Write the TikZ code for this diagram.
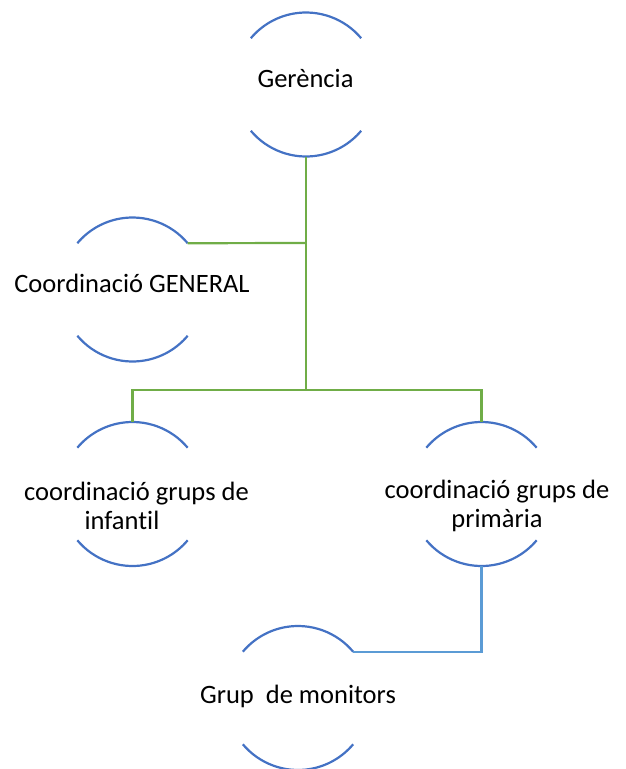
\documentclass[tikz,border=0pt]{standalone}
\usepackage{fontspec}
\setmainfont{Carlito}[Ligatures=NoCommon]
\usetikzlibrary{calc}
\definecolor{arcblue}{HTML}{4472C4}
\definecolor{linegreen}{HTML}{70AD47}
\definecolor{lineblue}{HTML}{5B9BD5}
\newcommand\halfring[1]{%
  \draw[ring] ($(#1)+(40:72)$) arc[start angle=40,end angle=140,radius=72];
  \draw[ring] ($(#1)+(220:72)$) arc[start angle=220,end angle=320,radius=72];}
\begin{document}
\begin{tikzpicture}[x=1pt,y=1pt,
  lbl/.style={font=\fontsize{26.5}{29}\selectfont, inner sep=0pt, align=center},
  ring/.style={draw=arcblue, line width=2.2pt},
  gline/.style={draw=linegreen, line width=2.2pt},
  bline/.style={draw=lineblue, line width=2.2pt}]
\useasboundingbox (0,0) rectangle (625,-769);
% circle centres
\coordinate (g) at (306,-84.5);
\coordinate (c) at (132.5,-289.5);
\coordinate (i) at (132.5,-494);
\coordinate (p) at (481.5,-494);
\coordinate (m) at (298,-698);
% rings
\halfring{g}
\halfring{c}
\halfring{i}
\halfring{p}
\halfring{m}
% labels
\node[lbl, anchor=base] (gt) at (305.5,-87.5) {Gerència};
\node[lbl, anchor=base] (ct) at (132,-292) {Coordinació GENERAL};
\node[lbl] (it) at (136.5,-506) {coordinació grups de\\infantil\hspace*{29pt}};
\node[lbl] (pt) at (497,-506) {coordinació grups de\\primària};
\node[lbl, anchor=base] (mt) at (298,-703) {Grup\ \ de monitors};
% connector points
\coordinate (gbot) at ($(g)+(270:72)$);
\coordinate (ctr) at ($(c)+(40:72)$);
\coordinate (itop) at ($(i)+(90:72)$);
\coordinate (ptop) at ($(p)+(90:72)$);
\coordinate (pbot) at ($(p)+(270:72)$);
\coordinate (mtr) at ($(m)+(40:72)$);
\coordinate (j) at (306,-390);
\coordinate (jc) at (306,-243);
% connectors
\draw[gline] (gbot) -- (j);
\draw[gline] (ctr) -- (jc);
\draw[gline] (itop) |- (j) -| (ptop);
\draw[bline] (pbot) |- (mtr);
\end{tikzpicture}
\end{document}
